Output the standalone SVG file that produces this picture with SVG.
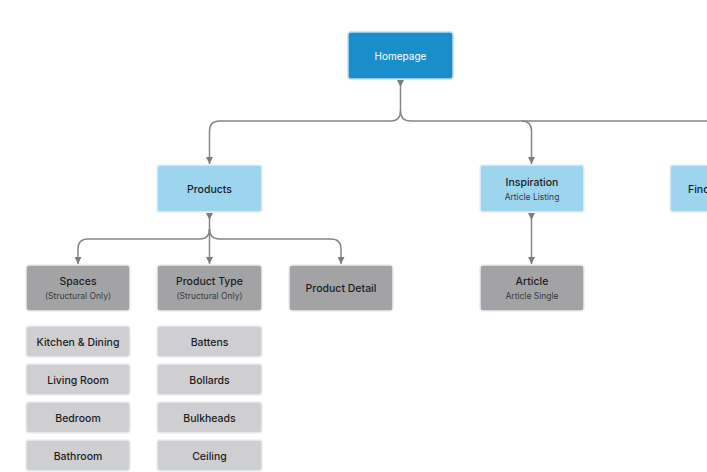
<svg xmlns="http://www.w3.org/2000/svg" width="707" height="472" viewBox="0 0 707 472">
<defs>
<marker id="aEnd" markerUnits="userSpaceOnUse" viewBox="0 0 8 8" refX="8" refY="4" markerWidth="7" markerHeight="7" orient="auto"><path d="M0,0 L8,4 L0,8 z" fill="#7d7d7f"/></marker>
<marker id="aStart" markerUnits="userSpaceOnUse" viewBox="0 0 8 8" refX="0" refY="4" markerWidth="7" markerHeight="7" orient="auto"><path d="M0,0 L8,4 L0,8 z" fill="#7d7d7f"/></marker>
</defs>
<style>
.box{stroke:#e9eef2;stroke-width:1.5}
.hp{fill:#1a8ecb;stroke:#b8def2}
.lb{fill:#9dd4ee}
.dg{fill:#a3a3a6}
.lg{fill:#cfcfd1}
text{font-family:Inter,"Noto Sans","Liberation Sans",sans-serif;text-anchor:middle;dominant-baseline:central;fill:#1c1c1e}
.t{font-size:10.5px;font-weight:500}
.s{font-size:8.5px;fill:#3a3a3c}
.w{fill:#ffffff;font-size:10px}
.c{fill:none;stroke:#85858a;stroke-width:1.5}
</style>
<rect width="707" height="472" fill="#ffffff"/>
<g id="connectors">
<path class="c" d="M400.5,80 V111 q0,10 -10,10 H219.5 q-10,0 -10,10 V164" marker-start="url(#aStart)" marker-end="url(#aEnd)"/>
<path class="c" d="M400.5,111 q0,10 10,10 H521.5 q10,0 10,10 V164" marker-end="url(#aEnd)"/>
<path class="c" d="M521.5,121 H720"/>
<path class="c" d="M209.5,213 V229 q0,10 -10,10 H88 q-10,0 -10,10 V264" marker-start="url(#aStart)" marker-end="url(#aEnd)"/>
<path class="c" d="M209.5,229 V264" marker-end="url(#aEnd)"/>
<path class="c" d="M209.5,229 q0,10 10,10 H331 q10,0 10,10 V264" marker-end="url(#aEnd)"/>
<path class="c" d="M531.5,213 V264" marker-start="url(#aStart)" marker-end="url(#aEnd)"/>
</g>
<g id="homepage"><rect class="box hp" x="348" y="32" width="105" height="47" rx="3"/><text class="w" x="400.5" y="56">Homepage</text></g>
<g id="products"><rect class="box lb" x="157" y="165" width="105" height="47" rx="3"/><text class="t" x="209.5" y="189">Products</text></g>
<g id="inspiration"><rect class="box lb" x="480" y="165" width="104" height="47" rx="3"/><text class="t" x="532" y="182">Inspiration</text><text class="s" x="532" y="197">Article Listing</text></g>
<g id="find"><rect class="box lb" x="670" y="165" width="80" height="47" rx="3"/><text class="t" x="688" y="189" style="text-anchor:start">Find</text></g>
<g id="spaces"><rect class="box dg" x="26" y="265" width="104" height="46" rx="3"/><text class="t" x="78" y="281">Spaces</text><text class="s" x="78" y="296">(Structural Only)</text></g>
<g id="product-type"><rect class="box dg" x="157" y="265" width="105" height="46" rx="3"/><text class="t" x="209.5" y="281">Product Type</text><text class="s" x="209.5" y="296">(Structural Only)</text></g>
<g id="product-detail"><rect class="box dg" x="289" y="265" width="104" height="46" rx="3"/><text class="t" x="341" y="288">Product Detail</text></g>
<g id="article"><rect class="box dg" x="480" y="265" width="104" height="46" rx="3"/><text class="t" x="532" y="281">Article</text><text class="s" x="532" y="296">Article Single</text></g>
<g id="kitchen"><rect class="box lg" x="26" y="326" width="104" height="31" rx="3"/><text class="t" x="78" y="342">Kitchen &amp; Dining</text></g>
<g id="living"><rect class="box lg" x="26" y="364" width="104" height="31" rx="3"/><text class="t" x="78" y="380">Living Room</text></g>
<g id="bedroom"><rect class="box lg" x="26" y="402" width="104" height="31" rx="3"/><text class="t" x="78" y="418">Bedroom</text></g>
<g id="bathroom"><rect class="box lg" x="26" y="440" width="104" height="31" rx="3"/><text class="t" x="78" y="456">Bathroom</text></g>
<g id="battens"><rect class="box lg" x="157" y="326" width="105" height="31" rx="3"/><text class="t" x="209.5" y="342">Battens</text></g>
<g id="bollards"><rect class="box lg" x="157" y="364" width="105" height="31" rx="3"/><text class="t" x="209.5" y="380">Bollards</text></g>
<g id="bulkheads"><rect class="box lg" x="157" y="402" width="105" height="31" rx="3"/><text class="t" x="209.5" y="418">Bulkheads</text></g>
<g id="ceiling"><rect class="box lg" x="157" y="440" width="105" height="31" rx="3"/><text class="t" x="209.5" y="456">Ceiling</text></g>
</svg>
